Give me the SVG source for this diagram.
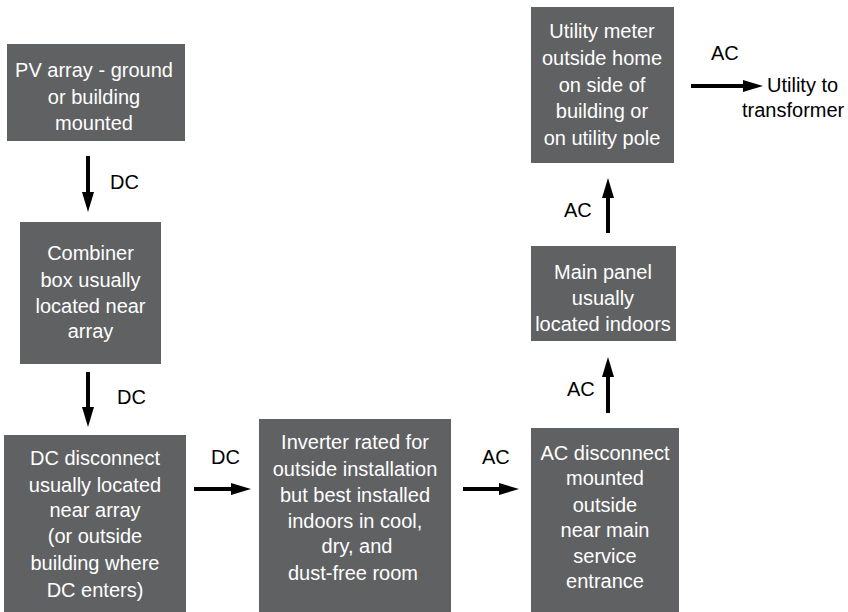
<svg xmlns="http://www.w3.org/2000/svg" width="848" height="612" viewBox="0 0 848 612">
  <defs>
    <style>
      .box { fill: #606163; }
      .t { font-family: "Liberation Sans", Arial, sans-serif; font-size: 20px; fill: #ffffff; text-anchor: middle; }
      .lbl { font-family: "Liberation Sans", Arial, sans-serif; font-size: 20px; fill: #000000; }
      .arr { stroke: #000000; stroke-width: 4; fill: none; marker-end: url(#ah); }
    </style>
    <marker id="ah" markerUnits="userSpaceOnUse" markerWidth="20" markerHeight="12" refX="2" refY="6" orient="auto">
      <path d="M0,0 L20,6 L0,12 z" fill="#000000"/>
    </marker>
  </defs>
  <rect width="848" height="612" fill="#ffffff"/>

  <g id="pv-array">
    <rect class="box" x="7" y="44" width="178" height="97"/>
    <text class="t" x="94" y="77">PV array - ground</text>
    <text class="t" x="94" y="104">or building</text>
    <text class="t" x="94" y="130">mounted</text>
  </g>

  <g id="combiner-box">
    <rect class="box" x="20" y="222" width="141" height="142"/>
    <text class="t" x="90.5" y="260">Combiner</text>
    <text class="t" x="90.5" y="287">box usually</text>
    <text class="t" x="90.5" y="313">located near</text>
    <text class="t" x="90.5" y="338">array</text>
  </g>

  <g id="dc-disconnect">
    <rect class="box" x="4" y="435" width="182" height="177"/>
    <text class="t" x="95" y="465">DC disconnect</text>
    <text class="t" x="95" y="492">usually located</text>
    <text class="t" x="95" y="517">near array</text>
    <text class="t" x="95" y="543">(or outside</text>
    <text class="t" x="95" y="570">building where</text>
    <text class="t" x="95" y="597">DC enters)</text>
  </g>

  <g id="inverter">
    <rect class="box" x="259" y="419" width="192" height="193"/>
    <text class="t" x="355" y="449">Inverter rated for</text>
    <text class="t" x="355" y="476">outside installation</text>
    <text class="t" x="355" y="502">but best installed</text>
    <text class="t" x="355" y="528">indoors in cool,</text>
    <text class="t" x="357" y="553">dry, and</text>
    <text class="t" x="353" y="580">dust-free room</text>
  </g>

  <g id="ac-disconnect">
    <rect class="box" x="531" y="428" width="148" height="184"/>
    <text class="t" x="605" y="460">AC disconnect</text>
    <text class="t" x="605" y="485">mounted</text>
    <text class="t" x="605" y="512">outside</text>
    <text class="t" x="605" y="537">near main</text>
    <text class="t" x="605" y="563">service</text>
    <text class="t" x="605" y="588">entrance</text>
  </g>

  <g id="main-panel">
    <rect class="box" x="531" y="246" width="145" height="95"/>
    <text class="t" x="603" y="279">Main panel</text>
    <text class="t" x="603" y="305">usually</text>
    <text class="t" x="603" y="331">located indoors</text>
  </g>

  <g id="utility-meter">
    <rect class="box" x="531" y="7" width="143" height="156"/>
    <text class="t" x="602" y="38">Utility meter</text>
    <text class="t" x="602" y="65">outside home</text>
    <text class="t" x="602" y="92">on side of</text>
    <text class="t" x="602" y="118">building or</text>
    <text class="t" x="602" y="145">on utility pole</text>
  </g>

  <g id="utility-transformer">
    <text class="lbl" x="767" y="92">Utility to</text>
    <text class="lbl" x="742" y="117">transformer</text>
  </g>

  <g id="connectors">
    <line class="arr" x1="88" y1="156" x2="88" y2="194"/>
    <text class="lbl" x="110" y="189">DC</text>

    <line class="arr" x1="88" y1="372" x2="88" y2="409"/>
    <text class="lbl" x="117" y="404">DC</text>

    <line class="arr" x1="194" y1="489" x2="233" y2="489"/>
    <text class="lbl" x="211" y="464">DC</text>

    <line class="arr" x1="463" y1="489" x2="501" y2="489"/>
    <text class="lbl" x="482" y="464">AC</text>

    <line class="arr" x1="608" y1="413" x2="608" y2="375"/>
    <text class="lbl" x="567" y="396">AC</text>

    <line class="arr" x1="608" y1="233" x2="608" y2="196"/>
    <text class="lbl" x="564" y="217">AC</text>

    <line class="arr" x1="691" y1="86" x2="745" y2="86"/>
    <text class="lbl" x="711" y="60">AC</text>
  </g>
</svg>
